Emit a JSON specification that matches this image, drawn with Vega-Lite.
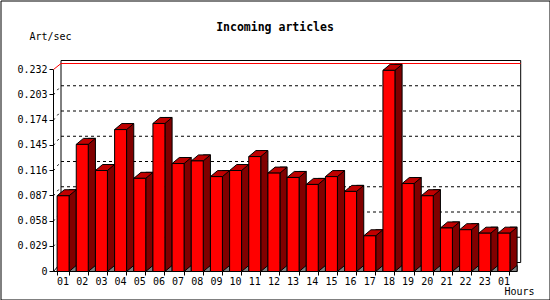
{
  "$schema": "https://vega.github.io/schema/vega-lite/v6.json",
  "width": 549,
  "height": 299,
  "autosize": {"type": "none"},
  "padding": 0.5,
  "background": "white",
  "config": {
    "view": {"stroke": "black", "strokeWidth": 1},
    "font": "DejaVu Sans Mono"
  },
  "title": {
    "text": "Incoming articles",
    "font": "DejaVu Sans Mono",
    "fontSize": 11.5,
    "fontWeight": "bold",
    "color": "black",
    "anchor": "middle",
    "frame": "group",
    "baseline": "middle",
    "offset": -39
  },
  "datasets": {
    "bars": [
      {"h": "01", "v": 0.087}, {"h": "02", "v": 0.146}, {"h": "03", "v": 0.116},
      {"h": "04", "v": 0.163}, {"h": "05", "v": 0.107}, {"h": "06", "v": 0.170},
      {"h": "07", "v": 0.124}, {"h": "08", "v": 0.127}, {"h": "09", "v": 0.109},
      {"h": "10", "v": 0.116}, {"h": "11", "v": 0.132}, {"h": "12", "v": 0.113},
      {"h": "13", "v": 0.108}, {"h": "14", "v": 0.100}, {"h": "15", "v": 0.109},
      {"h": "16", "v": 0.092}, {"h": "17", "v": 0.041}, {"h": "18", "v": 0.231},
      {"h": "19", "v": 0.101}, {"h": "20", "v": 0.087}, {"h": "21", "v": 0.050},
      {"h": "22", "v": 0.048}, {"h": "23", "v": 0.044}, {"h": "01 ", "v": 0.044}
    ],
    "grid": [
      {"g": 0.029}, {"g": 0.058}, {"g": 0.087}, {"g": 0.116},
      {"g": 0.145}, {"g": 0.174}, {"g": 0.203}
    ],
    "one": [{"k": 1}]
  },
  "resolve": {"axis": {"x": "independent", "y": "independent"}},
  "layer": [
    {
      "data": {"name": "one"},
      "mark": {"type": "rect", "fill": "white", "stroke": "black", "strokeWidth": 1, "xOffset": 3.91, "x2Offset": 22.77, "yOffset": -9, "y2Offset": -9},
      "encoding": {
        "x": {"datum": "01", "type": "nominal", "bandPosition": 0, "axis": null,
              "scale": {"domain": ["01","02","03","04","05","06","07","08","09","10","11","12","13","14","15","16","17","18","19","20","21","22","23","01 "], "range": [53, 513], "paddingInner": 0.375, "paddingOuter": 0.1875}},
        "x2": {"datum": "01 ", "bandPosition": 0},
        "y": {"datum": 0.232, "type": "quantitative", "axis": null, "scale": {"domain": [0, 0.232], "range": [271, 69], "nice": false, "zero": true}},
        "y2": {"datum": 0}
      }
    },
    {
      "data": {"name": "grid"},
      "mark": {"type": "rule", "stroke": "black", "strokeWidth": 1, "strokeDash": [3, 3], "xOffset": 3.91, "x2Offset": 22.77, "yOffset": -9},
      "encoding": {
        "x": {"datum": "01", "type": "nominal", "bandPosition": 0, "axis": null},
        "x2": {"datum": "01 ", "bandPosition": 0},
        "y": {"field": "g", "type": "quantitative", "axis": null}
      }
    },
    {
      "data": {"name": "grid"},
      "mark": {"type": "rule", "stroke": "black", "strokeWidth": 1, "strokeDash": [2, 4], "xOffset": -3.59, "x2Offset": 3.91, "y2Offset": -9},
      "encoding": {
        "x": {"datum": "01", "type": "nominal", "bandPosition": 0, "axis": null},
        "x2": {"datum": "01", "bandPosition": 0},
        "y": {"field": "g", "type": "quantitative", "axis": null},
        "y2": {"field": "g"}
      }
    },
    {
      "data": {"name": "one"},
      "mark": {"type": "rule", "stroke": "black", "strokeWidth": 1, "xOffset": -3.59, "x2Offset": 3.91, "y2Offset": -9},
      "encoding": {
        "x": {"datum": "01", "type": "nominal", "bandPosition": 0, "axis": null},
        "x2": {"datum": "01", "bandPosition": 0},
        "y": {"datum": 0, "type": "quantitative", "axis": null},
        "y2": {"datum": 0}
      }
    },
    {
      "data": {"name": "one"},
      "mark": {"type": "rule", "stroke": "#ff0000", "strokeWidth": 1, "xOffset": 3.91, "x2Offset": 22.77, "yOffset": -6},
      "encoding": {
        "x": {"datum": "01", "type": "nominal", "bandPosition": 0, "axis": null},
        "x2": {"datum": "01 ", "bandPosition": 0},
        "y": {"datum": 0.232, "type": "quantitative", "axis": null}
      }
    },
    {
      "data": {"name": "one"},
      "mark": {"type": "rule", "stroke": "#ff0000", "strokeWidth": 1, "xOffset": -3.59, "x2Offset": 3.91, "y2Offset": -6},
      "encoding": {
        "x": {"datum": "01", "type": "nominal", "bandPosition": 0, "axis": null},
        "x2": {"datum": "01", "bandPosition": 0},
        "y": {"datum": 0.232, "type": "quantitative", "axis": null},
        "y2": {"datum": 0.232}
      }
    },
    {
      "data": {"name": "bars"},
      "mark": {"type": "bar", "fill": "#800000", "stroke": "black", "strokeWidth": 1, "width": 7.19, "xOffset": 9.585, "yOffset": -6},
      "encoding": {
        "x": {"field": "h", "type": "nominal", "sort": null, "axis": null},
        "y": {"field": "v", "type": "quantitative", "axis": null},
        "y2": {"datum": 0}
      }
    },
    {
      "data": {"name": "bars"},
      "mark": {"type": "point", "shape": "M-1,0.834L1,-0.834L1,0.834Z", "size": 51.7, "filled": true, "fill": "#808080", "stroke": "black", "strokeWidth": 1, "opacity": 1, "xOffset": 9.585, "yOffset": -3},
      "encoding": {
        "x": {"field": "h", "type": "nominal", "sort": null, "axis": null},
        "y": {"datum": 0, "type": "quantitative", "axis": null}
      }
    },
    {
      "data": {"name": "bars"},
      "mark": {"type": "point", "shape": "M-1,0.313L-0.25,-0.313L1,-0.313L0.25,0.313Z", "size": 367.5, "filled": true, "fill": "#c00000", "stroke": "black", "strokeWidth": 1, "opacity": 1, "xOffset": 3.6, "yOffset": -3},
      "encoding": {
        "x": {"field": "h", "type": "nominal", "sort": null, "axis": null},
        "y": {"field": "v", "type": "quantitative", "axis": null}
      }
    },
    {
      "data": {"name": "bars"},
      "mark": {"type": "bar", "fill": "#ff0000", "stroke": "black", "strokeWidth": 1},
      "encoding": {
        "x": {"field": "h", "type": "nominal", "sort": null,
              "axis": {"title": "Hours", "orient": "bottom", "offset": -28, "translate": 0, "tickBand": "extent", "tickSize": 4, "tickColor": "black", "domainColor": "black", "grid": false,
                       "labelFont": "DejaVu Sans Mono", "labelFontSize": 10, "labelColor": "black", "labelPadding": 1, "labelAngle": 0, "labelOverlap": false, "labelExpr": "trim(datum.label)",
                       "titleX": 519, "titleY": 20.5, "titleAlign": "center", "titleBaseline": "middle", "titleFont": "DejaVu Sans Mono", "titleFontSize": 10, "titleFontWeight": "normal", "titleColor": "black"}},
        "y": {"field": "v", "type": "quantitative",
              "axis": {"title": "Art/sec", "orient": "left", "offset": -53, "translate": 0, "values": [0, 0.029, 0.058, 0.087, 0.116, 0.145, 0.174, 0.203, 0.232],
                       "labelExpr": "datum.value == 0 ? '0' : format(datum.value, '.3f')", "tickSize": 4, "tickColor": "black", "domainColor": "black", "grid": false,
                       "labelFont": "DejaVu Sans Mono", "labelFontSize": 10, "labelColor": "black", "labelPadding": 2, "labelOverlap": false,
                       "titleAngle": 0, "titleX": -3, "titleY": 36.5, "titleAlign": "center", "titleBaseline": "middle", "titleFont": "DejaVu Sans Mono", "titleFontSize": 10, "titleFontWeight": "normal", "titleColor": "black"}},
        "y2": {"datum": 0}
      }
    }
  ]
}
